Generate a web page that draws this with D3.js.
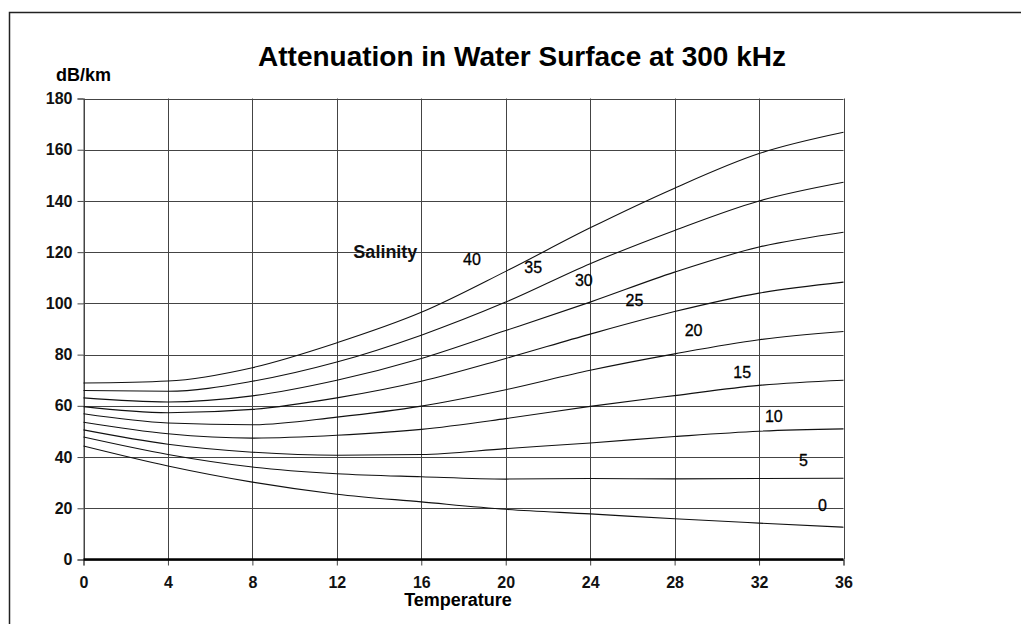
<!DOCTYPE html>
<html>
<head>
<meta charset="utf-8">
<script src="https://cdn.jsdelivr.net/npm/d3@7"></script>
<style>
  body { margin: 0; background: #fff; }
  svg { display: block; font-family: "Liberation Sans", Arial, sans-serif; }
</style>
</head>
<body>
<div id="chart"></div>
<script>
// temperature (deg C) sample points
const temps = [0, 4, 8, 12, 16, 20, 24, 28, 32, 36];

// attenuation dB/km per salinity
const s40 = [68.9, 69.7, 74.9, 84.6, 96.5, 112.5, 129.5, 145.0, 158.5, 166.8];
const s35 = [66.0, 65.7, 69.6, 77.1, 87.6, 100.5, 115.5, 128.5, 140.0, 147.3];
const s30 = [63.1, 61.5, 63.9, 70.0, 78.5, 89.4, 100.5, 112.2, 122.0, 127.8];
const s25 = [59.7, 57.3, 58.6, 63.1, 69.6, 78.5, 88.0, 96.8, 104.0, 108.3];
const s20 = [56.9, 53.3, 52.6, 55.6, 59.9, 66.3, 73.9, 80.3, 85.8, 89.0];
const s15 = [53.6, 49.1, 47.4, 48.5, 50.8, 55.0, 59.8, 64.0, 68.0, 70.0];
const s10 = [50.6, 45.0, 41.9, 40.7, 41.0, 43.3, 45.5, 48.0, 50.1, 51.0];
const s5  = [47.8, 41.0, 36.1, 33.5, 32.3, 31.4, 31.6, 31.5, 31.6, 31.7];
const s0  = [44.3, 36.5, 30.2, 25.5, 22.5, 19.6, 17.8, 15.9, 14.2, 12.6];

const salinities = ['40', '35', '30', '25', '20', '15', '10', '5', '0'];
const seriesValues = [s40, s35, s30, s25, s20, s15, s10, s5, s0];

// where each salinity label sits, in chart units (temperature, dB/km)
const labelT = [18.4, 21.3, 23.7, 26.1, 28.9, 31.2, 32.7, 34.1, 35.0];
const labelV = [117.2, 114.0, 109.1, 101.2, 89.5, 72.9, 55.9, 38.7, 21.1];

const xTicks = [0, 4, 8, 12, 16, 20, 24, 28, 32, 36];
const yTicks = [0, 20, 40, 60, 80, 100, 120, 140, 160, 180];

const W = 1021, H = 624;
const svg = d3.select('#chart').append('svg')
  .attr('width', W)
  .attr('height', H);

// outer frame
svg.append('rect')
  .attr('x', 9.5).attr('y', 12.5)
  .attr('width', 1040).attr('height', 640)
  .attr('fill', 'none')
  .attr('stroke', '#222')
  .attr('stroke-width', 1.5);

const x = d3.scaleLinear().domain([0, 36]).range([83.5, 843.5]);
const y = d3.scaleLinear().domain([0, 180]).range([559.5, 98.5]);

// grid
svg.append('g')
  .selectAll('line.v')
  .data(xTicks)
  .join('line')
  .attr('x1', d => Math.round(x(d)) + 0.5)
  .attr('x2', d => Math.round(x(d)) + 0.5)
  .attr('y1', y(180))
  .attr('y2', y(0))
  .attr('stroke', '#444');

svg.append('g')
  .selectAll('line.h')
  .data(yTicks.filter(d => d > 0))
  .join('line')
  .attr('x1', x(0))
  .attr('x2', x(36))
  .attr('y1', d => Math.round(y(d)) + 0.5)
  .attr('y2', d => Math.round(y(d)) + 0.5)
  .attr('stroke', '#444');

// axes
const yAxis = svg.append('g')
  .attr('transform', 'translate(' + x(0) + ',0)')
  .call(d3.axisLeft(y).tickValues(yTicks).tickSize(6).tickPadding(5));
const xAxis = svg.append('g')
  .attr('transform', 'translate(0,' + y(0) + ')')
  .call(d3.axisBottom(x).tickValues(xTicks).tickSize(6).tickPadding(11));

[yAxis, xAxis].forEach(a => {
  a.select('.domain').attr('stroke', '#444');
  a.selectAll('.tick line').attr('stroke', '#444');
  a.selectAll('.tick text')
    .attr('fill', '#111')
    .style('font-size', '16px')
    .style('font-weight', 'bold')
    .style('font-family', '"Liberation Sans", Arial, sans-serif');
});

// thick zero line
svg.append('line')
  .attr('x1', x(0)).attr('x2', x(36))
  .attr('y1', y(0)).attr('y2', y(0))
  .attr('stroke', '#000')
  .attr('stroke-width', 2.5);

// curves
const line = d3.line()
  .x((d, i) => x(temps[i]))
  .y(d => y(d))
  .curve(d3.curveMonotoneX);

svg.append('g')
  .selectAll('path')
  .data(seriesValues)
  .join('path')
  .attr('fill', 'none')
  .attr('stroke', '#111')
  .attr('stroke-width', 1.1)
  .attr('d', line);

// salinity labels
svg.append('g')
  .selectAll('text')
  .data(salinities)
  .join('text')
  .attr('x', (d, i) => x(labelT[i]))
  .attr('y', (d, i) => y(labelV[i]))
  .attr('text-anchor', 'middle')
  .attr('dominant-baseline', 'central')
  .style('font-size', '16px')
  .attr('fill', '#000')
  .attr('stroke', '#000')
  .attr('stroke-width', 0.3)
  .text(d => d);

svg.append('text')
  .attr('x', x(14.3))
  .attr('y', y(120))
  .attr('text-anchor', 'middle')
  .attr('dominant-baseline', 'central')
  .style('font-size', '18px')
  .style('font-weight', 'bold')
  .attr('fill', '#111')
  .text('Salinity');

// titles
svg.append('text')
  .attr('x', 522)
  .attr('y', 66)
  .attr('text-anchor', 'middle')
  .style('font-size', '28px')
  .style('font-weight', 'bold')
  .attr('fill', '#000')
  .text('Attenuation in Water Surface at 300 kHz');

svg.append('text')
  .attr('x', 56)
  .attr('y', 81)
  .style('font-size', '18px')
  .style('font-weight', 'bold')
  .attr('fill', '#000')
  .text('dB/km');

svg.append('text')
  .attr('x', 458)
  .attr('y', 606)
  .attr('text-anchor', 'middle')
  .style('font-size', '18px')
  .style('font-weight', 'bold')
  .attr('fill', '#000')
  .text('Temperature');
</script>
</body>
</html>
